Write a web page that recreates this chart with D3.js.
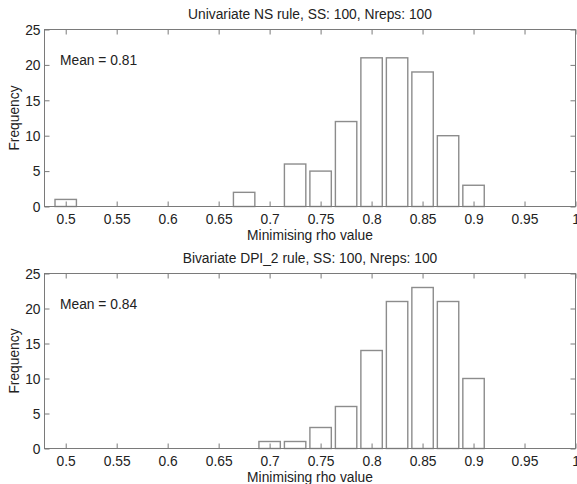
<!DOCTYPE html>
<html>
<head>
<meta charset="utf-8">
<script src="https://cdn.jsdelivr.net/npm/d3@7"></script>
<style>
  html, body { margin: 0; padding: 0; background: #fff; }
  svg { display: block; }
  text { font-family: "Liberation Sans", Arial, sans-serif; fill: #222; }
</style>
</head>
<body>
<svg id="chart" width="577" height="484"></svg>
<script>
// Histogram bin centres and counts for each panel
const uniCenters = [0.5, 0.675, 0.725, 0.75, 0.775, 0.8, 0.825, 0.85, 0.875, 0.9];
const uniCounts  = [1, 2, 6, 5, 12, 21, 21, 19, 10, 3];
const biCenters  = [0.7, 0.725, 0.75, 0.775, 0.8, 0.825, 0.85, 0.875, 0.9];
const biCounts   = [1, 1, 3, 6, 14, 21, 23, 21, 10];

const xTicks = [0.5, 0.55, 0.6, 0.65, 0.7, 0.75, 0.8, 0.85, 0.9, 0.95, 1];
const yTicks = [0, 5, 10, 15, 20, 25];
const titles = ["Univariate NS rule, SS: 100, Nreps: 100",
                "Bivariate DPI_2 rule, SS: 100, Nreps: 100"];
const means  = ["Mean = 0.81", "Mean = 0.84"];
const xLabel = "Minimising rho value";
const yLabel = "Frequency";
const binWidth = 0.025;
const barFrac = 0.84;

const svg = d3.select("#chart");
const left = 44.5, right = 575.5;
const panels = [
  { top: 29.5, bottom: 206.5, centers: uniCenters, counts: uniCounts, title: titles[0], mean: means[0] },
  { top: 273.5, bottom: 448.5, centers: biCenters, counts: biCounts, title: titles[1], mean: means[1] }
];

const x = d3.scaleLinear().domain([0.4792, 1.0]).range([left, right]);
const axisColor = "#7a7a7a";
const fs = 13.8;

panels.forEach(p => {
  const y = d3.scaleLinear().domain([0, 25]).range([p.bottom, p.top]);
  const g = svg.append("g");

  // bars
  const bars = p.centers.map((c, i) => ({ c, n: p.counts[i] }));
  g.selectAll("rect.bar").data(bars).enter().append("rect")
    .attr("class", "bar")
    .attr("x", d => x(d.c - binWidth * barFrac / 2))
    .attr("width", d => x(d.c + binWidth * barFrac / 2) - x(d.c - binWidth * barFrac / 2))
    .attr("y", d => y(d.n))
    .attr("height", d => y(0) - y(d.n))
    .attr("fill", "#fff")
    .attr("stroke", "#8c8c8c")
    .attr("stroke-width", 1.4);

  // bottom axis (ticks pointing inward)
  const xb = g.append("g").attr("transform", `translate(0,${p.bottom})`)
    .call(d3.axisBottom(x).tickValues(xTicks).tickSize(-5).tickPadding(0)
      .tickFormat(d => d3.format("")(d)));
  xb.select(".domain").remove();
  xb.selectAll(".tick line").attr("stroke", axisColor);
  xb.selectAll(".tick text").attr("y", 17).attr("dy", 0)
    .style("font-size", fs + "px").style("font-family", "Liberation Sans, Arial, sans-serif").attr("fill", "#222");

  // top ticks
  const xt = g.append("g").attr("transform", `translate(0,${p.top})`)
    .call(d3.axisTop(x).tickValues(xTicks).tickSize(-5).tickFormat(""));
  xt.select(".domain").remove();
  xt.selectAll(".tick line").attr("stroke", axisColor);

  // left axis
  const yl = g.append("g").attr("transform", `translate(${left},0)`)
    .call(d3.axisLeft(y).tickValues(yTicks).tickSize(-5).tickPadding(0));
  yl.select(".domain").remove();
  yl.selectAll(".tick line").attr("stroke", axisColor);
  yl.selectAll(".tick text").attr("x", -4).attr("dy", "0.35em")
    .style("font-size", fs + "px").style("font-family", "Liberation Sans, Arial, sans-serif").attr("fill", "#222");

  // right ticks
  const yr = g.append("g").attr("transform", `translate(${right},0)`)
    .call(d3.axisRight(y).tickValues(yTicks).tickSize(-5).tickFormat(""));
  yr.select(".domain").remove();
  yr.selectAll(".tick line").attr("stroke", axisColor);

  // box
  g.append("rect")
    .attr("x", left).attr("y", p.top)
    .attr("width", right - left).attr("height", p.bottom - p.top)
    .attr("fill", "none").attr("stroke", axisColor).attr("stroke-width", 1);

  // title
  g.append("text")
    .attr("x", (left + right) / 2).attr("y", p.top - 10.5)
    .attr("text-anchor", "middle").style("font-size", fs + "px")
    .text(p.title);

  // x label
  g.append("text")
    .attr("x", (left + right) / 2).attr("y", p.bottom + 33.5)
    .attr("text-anchor", "middle").style("font-size", fs + "px")
    .text(xLabel);

  // y label
  g.append("text")
    .attr("transform", `translate(18.5,${(p.top + p.bottom) / 2}) rotate(-90)`)
    .attr("text-anchor", "middle").style("font-size", fs + "px")
    .text(yLabel);

  // mean annotation
  g.append("text")
    .attr("x", 60).attr("y", p.top + 35.5)
    .style("font-size", fs + "px")
    .text(p.mean);
});
</script>
</body>
</html>
